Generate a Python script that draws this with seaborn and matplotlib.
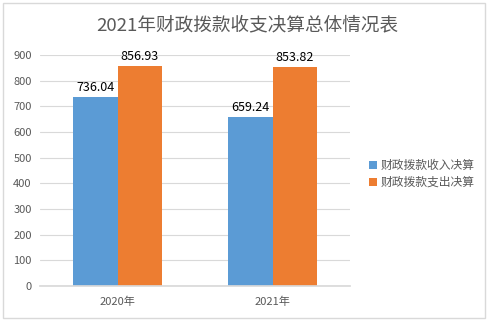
import matplotlib
matplotlib.use("Agg")
import matplotlib.pyplot as plt
import seaborn as sns
import pandas as pd
from matplotlib.patches import Rectangle

years = ["2020年", "2021年"]
series = ["财政拨款收入决算", "财政拨款支出决算"]
income = [736.04, 659.24]
expense = [856.93, 853.82]
title = "2021年财政拨款收支决算总体情况表"

sns.set_theme(style="white")
plt.rcParams['font.family'] = ['Noto Sans CJK SC', 'DejaVu Sans']

df = pd.DataFrame({
    "year": years * 2,
    "series": [series[0]] * 2 + [series[1]] * 2,
    "value": income + expense,
})

fig = plt.figure(figsize=(4.94, 3.24), dpi=100)
ax = fig.add_axes([40/494, 1-286/324, 310/494, 231/324])

palette = {series[0]: "#5B9BD5", series[1]: "#ED7D31"}
sns.barplot(data=df, x="year", y="value", hue="series", palette=palette,
            width=0.57, saturation=1, ax=ax, legend=True, linewidth=0, edgecolor="none")

ax.set_ylim(0, 900)
ax.set_yticks(range(0, 901, 100))
ax.yaxis.grid(True, color="#D9D9D9", linewidth=0.8)
ax.set_axisbelow(True)
for s in ["top", "right", "left"]:
    ax.spines[s].set_visible(False)
ax.spines["bottom"].set_color("#D9D9D9")
ax.set_xlabel("")
ax.set_ylabel("")
ax.tick_params(axis="both", length=0, labelsize=8, colors="#595959", pad=6)
ax.tick_params(axis="x", pad=8)

for c in ax.containers:
    ax.bar_label(c, fmt="%.2f", fontsize=9, color="black", padding=2)

ax.legend(loc="center left", bbox_to_anchor=(358/494, 0.5 - (174-162)/324), bbox_transform=fig.transFigure,
          frameon=False, fontsize=8.5, handlelength=0.7, handleheight=0.7,
          handletextpad=0.3, labelspacing=0.35, labelcolor="#595959")

fig.text(0.5, 1-25/324, title, ha="center", va="center", fontsize=13.4, color="#595959")

fig.patches.append(Rectangle((3/494, 1-318/324), 482/494, 315/324, transform=fig.transFigure,
                             fill=False, edgecolor="#D9D9D9", linewidth=1))

fig.savefig("out.png", dpi=100)
